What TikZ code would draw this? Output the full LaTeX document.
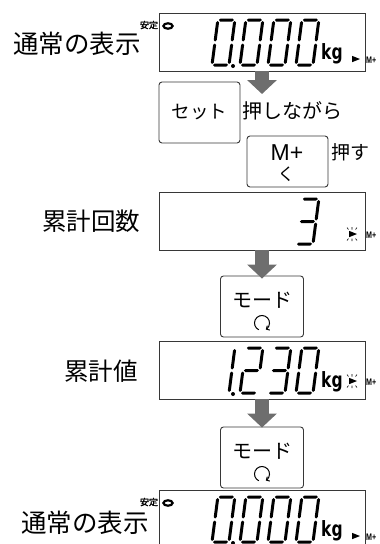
\documentclass[tikz,border=0pt]{standalone}
\usepackage{fontspec}
\newfontfamily\jp{Noto Sans CJK JP}
\newfontfamily\jpb{Noto Sans CJK JP}[FakeBold=2]
\newfontfamily\lsans{Liberation Sans}
\newfontfamily\lsansb{Liberation Sans Bold}
\newfontfamily\djv{DejaVu Sans Bold}
\usetikzlibrary{arrows.meta}
\definecolor{arrowgray}{RGB}{110,110,110}
\definecolor{boxline}{RGB}{55,55,55}
\newcommand\hsg[3]{\fill (#1,#3) -- (#1+1.5,#3+1.5) -- (#2-1.5,#3+1.5) -- (#2,#3) -- (#2-1.5,#3-1.5) -- (#1+1.5,#3-1.5) -- cycle;}
\newcommand\vsg[3]{\fill (#1,#2) -- (#1+1.5,#2+1.5) -- (#1+1.5,#3-1.5) -- (#1,#3) -- (#1-1.5,#3-1.5) -- (#1-1.5,#2+1.5) -- cycle;}
\newcommand\sgA{\hsg{1}{16}{45}}
\newcommand\sgG{\hsg{1}{16}{22.5}}
\newcommand\sgD{\hsg{1}{16}{0}}
\newcommand\sgF{\vsg{0}{23.5}{44}}
\newcommand\sgE{\vsg{0}{1}{21.5}}
\newcommand\sgB{\vsg{17}{23.5}{44}}
\newcommand\sgC{\vsg{17}{1}{21.5}}
\newcommand\lcd[3]{\begin{scope}[shift={(#1,#2)},y=1pt,xslant=0.13]#3\end{scope}}
\newcommand\dZero{\sgA\sgB\sgC\sgD\sgE\sgF}
\newcommand\dOne{\sgB\sgC}
\newcommand\dTwo{\sgA\sgB\sgG\sgE\sgD}
\newcommand\dThree{\sgA\sgB\sgG\sgC\sgD}
% indicators, #1 = top of display
\newcommand\stableind[1]{%
  \node[font={\jpb\fontsize{9pt}{9pt}\selectfont}, inner sep=0] at (149,#1+12) {安定};
  \draw[line width=2.2] (168,#1+13) ellipse[x radius=4.6, y radius=2.7];}
\newcommand\kgind[1]{%
  \node[anchor=base west, inner sep=0, font={\djv\fontsize{21pt}{21pt}\selectfont}] at (321,#1+46) {\scalebox{0.74}[1]{kg}};}
\newcommand\mplus[1]{%
  \node[anchor=west, inner sep=0, font={\lsansb\fontsize{9.5pt}{9.5pt}\selectfont}] at (366,#1) {\scalebox{0.75}[1]{M+}};}
\newcommand\plainind[1]{%
  \fill (352,#1-3.2) -- (360,#1) -- (352,#1+3.2) -- cycle;}
\newcommand\flashind[1]{%
  \fill (349,#1-3.2) -- (357,#1) -- (349,#1+3.2) -- cycle;
  \draw[line width=0.6] (348.5,#1-4.5)--(347,#1-6.5) (352,#1-4.5)--(352,#1-7) (355.5,#1-4.5)--(357,#1-6.5)
    (348.5,#1+4.5)--(347,#1+6.5) (352,#1+4.5)--(352,#1+7) (355.5,#1+4.5)--(357,#1+6.5);}
\begin{document}
\begin{tikzpicture}[x=1pt,y=-1pt,
  disp/.style={draw=boxline, line width=0.9pt, minimum width=206pt, minimum height=58pt, inner sep=0pt},
  keybox/.style={draw=boxline, line width=0.9pt, rounded corners=3pt, inner sep=0pt},
  bigarrow/.style={draw=arrowgray, line width=14pt, -{Triangle[length=14pt,width=29pt]}},
  rotsym/.style={line width=1pt, -{Straight Barb[length=2.5pt,width=5pt]}},
  jpt/.style={inner sep=0pt}]
\useasboundingbox (0,0) rectangle (380,544);
% displays
\node[disp] (d1) at (262,42) {};
\node[disp] (d2) at (262,221) {};
\node[disp] (d3) at (262,370) {};
\node[disp] (d4) at (262,519) {};
% keys
\node[keybox, minimum width=81pt, minimum height=61pt] (kset) at (199.5,112.5) {};
\node[keybox, minimum width=81pt, minimum height=51pt] (kmp) at (287.5,161.5) {};
\node[keybox, minimum width=83pt, minimum height=61pt] (km1) at (262,306.5) {};
\node[keybox, minimum width=83pt, minimum height=61pt] (km2) at (262,457.5) {};
% labels
\node[jpt, font={\jp\fontsize{25.5pt}{25.5pt}\selectfont}] (l1) at (77,44) {通常の表示};
\node[jpt, font={\jp\fontsize{24.5pt}{24.5pt}\selectfont}] (l2) at (91,221) {累計回数};
\node[jpt, font={\jp\fontsize{24.5pt}{24.5pt}\selectfont}] (l3) at (101,371) {累計値};
\node[jpt, font={\jp\fontsize{25.5pt}{25.5pt}\selectfont}] (l4) at (85,523) {通常の表示};
\node[jpt, font={\jp\fontsize{20pt}{20pt}\selectfont}] (t1) at (292,111) {押しながら};
\node[jpt, font={\jp\fontsize{19pt}{19pt}\selectfont}] (t2) at (350,152) {押す};
% key texts
\node[jpt, font={\jp\fontsize{18.5pt}{18.5pt}\selectfont}] (tset) at (199.5,112) {セット};
\node[jpt, font={\lsans\fontsize{23pt}{23pt}\selectfont}] (tmp) at (287,152.5) {M+};
\node[jpt, font={\jp\fontsize{17pt}{17pt}\selectfont}] (tku) at (286,174) {く};
\node[jpt, font={\jp\fontsize{20pt}{20pt}\selectfont}] (tm1) at (262,300) {モード};
\node[jpt, font={\jp\fontsize{20pt}{20pt}\selectfont}] (tm2) at (262,451) {モード};
\coordinate (r1) at (262,323);
\coordinate (r2) at (262,474);
\draw[rotsym] (r1) ++(115:7.5) arc[start angle=115, end angle=420, radius=7.5];
\draw[rotsym] (r2) ++(115:7.5) arc[start angle=115, end angle=420, radius=7.5];
% arrows
\coordinate (a1) at (262,94);
\draw[bigarrow] (d1.south) -- (a1);
\draw[bigarrow] (d2.south) -- ([yshift=-3pt]km1.north);
\draw[bigarrow] (d3.south) -- ([yshift=-1pt]km2.north);
% display 1
\stableind{13}
\lcd{212}{65}{\dZero}\lcd{240}{65}{\dZero}\lcd{268}{65}{\dZero}\lcd{296}{65}{\dZero}
\fill (233,66) circle[radius=2];
\kgind{13}
\plainind{59}
\mplus{60}
% display 2
\lcd{296}{244}{\dThree}
\flashind{234}
\mplus{235}
% display 3
\lcd{212}{393}{\dOne}\lcd{240}{393}{\dTwo}\lcd{268}{393}{\dThree}\lcd{296}{393}{\dZero}
\fill (233,394) circle[radius=2];
\kgind{341}
\flashind{381}
\mplus{382}
% display 4
\stableind{490}
\lcd{212}{542}{\dZero}\lcd{240}{542}{\dZero}\lcd{268}{542}{\dZero}\lcd{296}{542}{\dZero}
\fill (233,543) circle[radius=2];
\kgind{490}
\plainind{536}
\mplus{537}
\end{tikzpicture}
\end{document}
